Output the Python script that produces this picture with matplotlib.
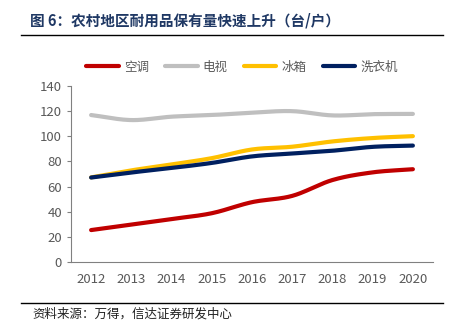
import matplotlib
matplotlib.use('Agg')
import matplotlib.pyplot as plt
import numpy as np

plt.rcParams['font.family'] = ['Noto Sans CJK SC', 'DejaVu Sans']

years = [2012, 2013, 2014, 2015, 2016, 2017, 2018, 2019, 2020]
aircon = [25.4, 29.8, 34.2, 38.8, 47.6, 52.6, 65.2, 71.3, 73.8]
tv = [116.9, 112.9, 115.6, 116.9, 118.8, 120.0, 116.6, 117.6, 117.8]
fridge = [67.3, 72.9, 77.6, 82.6, 89.5, 91.7, 95.9, 98.6, 100.1]
washer = [67.2, 71.2, 74.8, 78.8, 84.0, 86.3, 88.5, 91.6, 92.6]
names = ['空调', '电视', '冰箱', '洗衣机']
colors = ['#C00000', '#BFBFBF', '#FFC000', '#002060']


def smooth(x, y, n=20):
    # catmull-rom style smoothing like excel's smoothed lines
    x = np.asarray(x, float)
    y = np.asarray(y, float)
    px = np.concatenate([[2 * x[0] - x[1]], x, [2 * x[-1] - x[-2]]])
    py = np.concatenate([[2 * y[0] - y[1]], y, [2 * y[-1] - y[-2]]])
    xs, ys = [], []
    t = np.linspace(0, 1, n, endpoint=False)
    for i in range(1, len(px) - 2):
        for arr, out in ((px, xs), (py, ys)):
            p0, p1, p2, p3 = arr[i - 1], arr[i], arr[i + 1], arr[i + 2]
            out.extend(0.5 * (2 * p1 + (-p0 + p2) * t
                              + (2 * p0 - 5 * p1 + 4 * p2 - p3) * t ** 2
                              + (-p0 + 3 * p1 - 3 * p2 + p3) * t ** 3))
    xs.append(x[-1])
    ys.append(y[-1])
    return xs, ys


fig = plt.figure(figsize=(4.53, 3.29), dpi=100)
ax = fig.add_axes([71 / 453, 1 - 262 / 329, 362 / 453, 176 / 329])

for vals, name, c in zip([aircon, tv, fridge, washer], names, colors):
    sx, sy = smooth(years, vals)
    ax.plot(sx, sy, color=c, lw=3, label=name, solid_capstyle='round')

ax.set_xlim(2011.5, 2020.5)
ax.set_ylim(0, 140)
ax.set_yticks(range(0, 141, 20))
ax.set_xticks(years)
for s in ['top', 'right']:
    ax.spines[s].set_visible(False)
for s in ['left', 'bottom']:
    ax.spines[s].set_color('#808080')
    ax.spines[s].set_linewidth(0.8)
ax.tick_params(axis='y', colors='#808080', labelcolor='#595959', labelsize=9.5, length=3, width=0.8)
ax.tick_params(axis='x', length=0, labelcolor='#595959', labelsize=9.5, pad=8)

fig.legend(loc='center', bbox_to_anchor=(242 / 453, 1 - 67 / 329), ncol=4, frameon=False,
           fontsize=9, handlelength=2.6, columnspacing=1.3, handletextpad=0.4,
           labelcolor='#595959')

fig.text(30 / 453, 1 - 21 / 329, '图 6：农村地区耐用品保有量快速上升（台/户）', fontsize=10.5,
         fontweight='bold', color='#1F3864', va='center')
fig.add_artist(plt.Line2D([21 / 453, 443 / 453], [1 - 35 / 329, 1 - 35 / 329], color='black', lw=1))
fig.add_artist(plt.Line2D([21 / 453, 443 / 453], [1 - 303 / 329, 1 - 303 / 329], color='black', lw=1))
fig.text(32 / 453, 1 - 314 / 329, '资料来源：万得，信达证券研发中心', fontsize=9,
         color='#222222', va='center', style='italic')

fig.savefig('out.png', dpi=100)
